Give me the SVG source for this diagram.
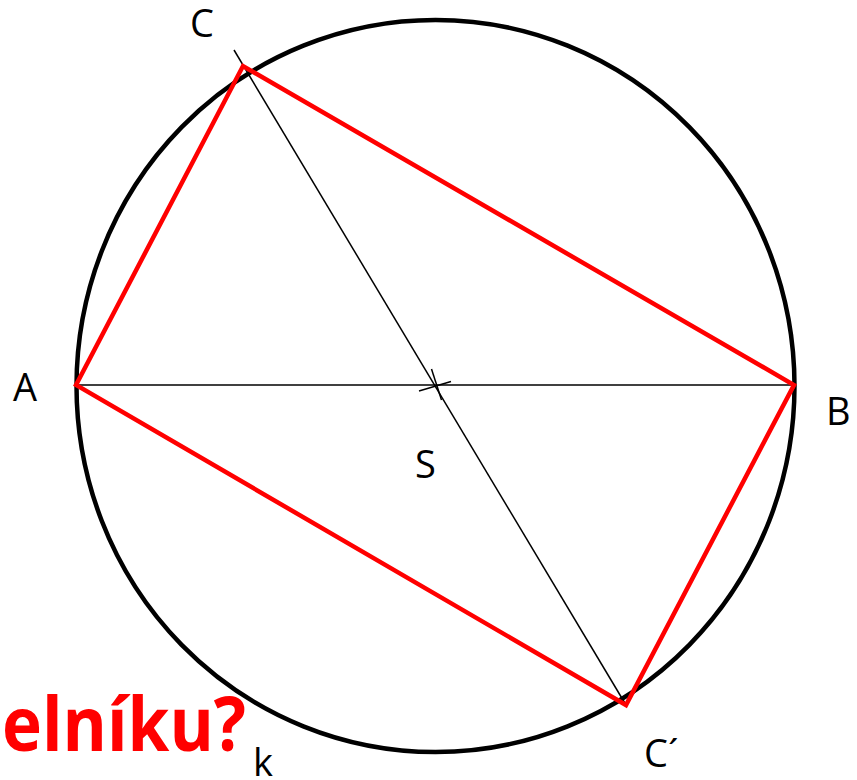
<svg xmlns="http://www.w3.org/2000/svg" width="857" height="780" viewBox="0 0 857 780">
<style>
.lbl{font-family:"Open Sans","Liberation Sans",sans-serif;font-size:38px;fill:#000}
.thin{stroke:#000;stroke-width:1.5;fill:none}
</style>
<rect width="857" height="780" fill="#fff"/>
<g id="circle-k"><ellipse cx="435.5" cy="386" rx="359" ry="366" fill="none" stroke="#000" stroke-width="4.5"/></g>
<g id="connectors">
<line class="thin" x1="76" y1="385" x2="794" y2="385"/>
<line class="thin" x1="234" y1="50" x2="626" y2="705"/>
<line class="thin" x1="419" y1="391" x2="451" y2="381.5"/>
<line class="thin" x1="431.5" y1="369" x2="441.5" y2="400"/>
<polygon points="76,385 243,66 794,385 626,705" fill="none" stroke="#f00" stroke-width="4.5" stroke-linejoin="miter"/>
</g>
<g id="label-C"><text class="lbl" x="190" y="37">C</text></g>
<g id="label-A"><text class="lbl" x="13" y="401">A</text></g>
<g id="label-B"><text class="lbl" x="826" y="425">B</text></g>
<g id="label-S"><text class="lbl" x="415" y="478">S</text></g>
<g id="label-C2"><text class="lbl" x="644" y="767">C´</text></g>
<g id="label-k"><text class="lbl" x="253" y="776">k</text></g>
<g id="title"><text x="2" y="751" font-family="'Open Sans','Liberation Sans',sans-serif" font-weight="bold" font-size="76" fill="#f00" textLength="244" lengthAdjust="spacingAndGlyphs">elníku?</text></g>
</svg>
